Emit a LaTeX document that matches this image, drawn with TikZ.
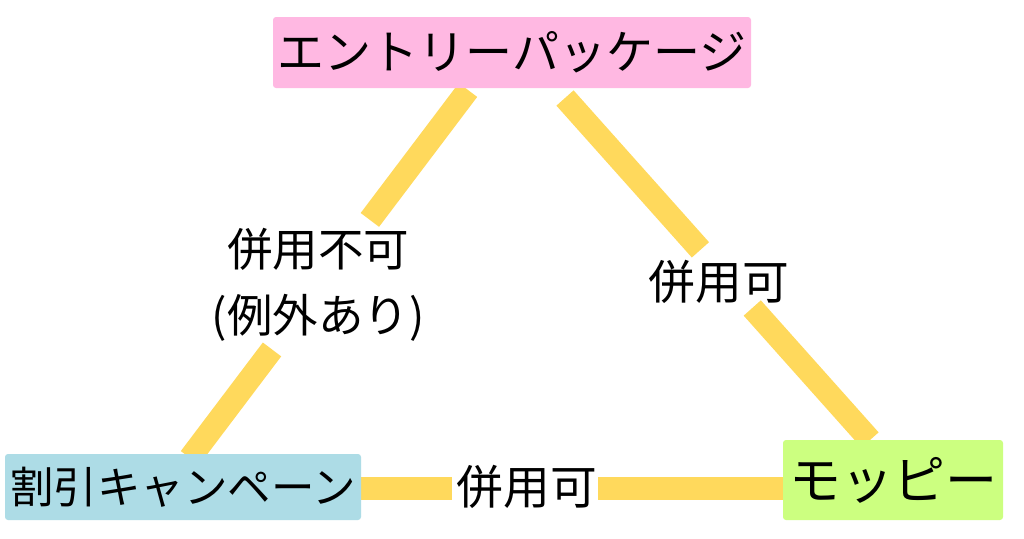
\documentclass[tikz,border=0pt]{standalone}
\usepackage{fontspec}
\setmainfont{Noto Sans CJK JP}
\usetikzlibrary{calc}
\definecolor{boxpink}{RGB}{255,184,226}
\definecolor{boxblue}{RGB}{173,220,230}
\definecolor{boxgreen}{RGB}{204,255,128}
\definecolor{linkyellow}{RGB}{255,217,92}
\begin{document}
\begin{tikzpicture}[x=1pt,y=-1pt,
  box/.style={rounded corners=3pt,inner sep=0pt,align=center,text=black},
  link/.style={draw=linkyellow,line width=23pt,line cap=butt},
  lbl/.style={inner sep=0pt,align=center,text=black}]
\useasboundingbox[fill=white] (0,0) rectangle (1024,538);
% endpoints of connectors
\coordinate (LT) at (468,90);
\coordinate (LB) at (190,458);
\coordinate (RT) at (565,98);
\coordinate (RB) at (870,440);
\coordinate (BL) at (355,488);
\coordinate (BR) at (790,488);
% connectors
\draw[link] (LT) -- ($(LT)!0.353!(LB)$);
\draw[link] ($(LT)!0.705!(LB)$) -- (LB);
\draw[link] (RT) -- ($(RT)!0.444!(RB)$);
\draw[link] ($(RT)!0.614!(RB)$) -- (RB);
\draw[link] (BL) -- (452,488);
\draw[link] (598,488) -- (BR);
% boxes
\node[box,fill=boxpink,minimum width=478pt,minimum height=71pt,font=\fontsize{47}{50}\selectfont] (top) at (512,52.5) {エントリーパッケージ};
\node[box,fill=boxblue,minimum width=356pt,minimum height=66pt,font=\fontsize{43.5}{46}\selectfont] (left) at (183,487) {割引キャンペーン};
\node[box,fill=boxgreen,minimum width=220pt,minimum height=80pt,font=\fontsize{52}{55}\selectfont] (right) at (893,480) {モッピー};
% labels
\node[lbl,font=\fontsize{45.5}{66}\selectfont] (labL) at (318,285) {併用不可\\(例外あり)};
\node[lbl,font=\fontsize{46.7}{50}\selectfont] (labR) at (719,282) {併用可};
\node[lbl,font=\fontsize{46.7}{50}\selectfont] (labB) at (527,487) {併用可};
\end{tikzpicture}
\end{document}
